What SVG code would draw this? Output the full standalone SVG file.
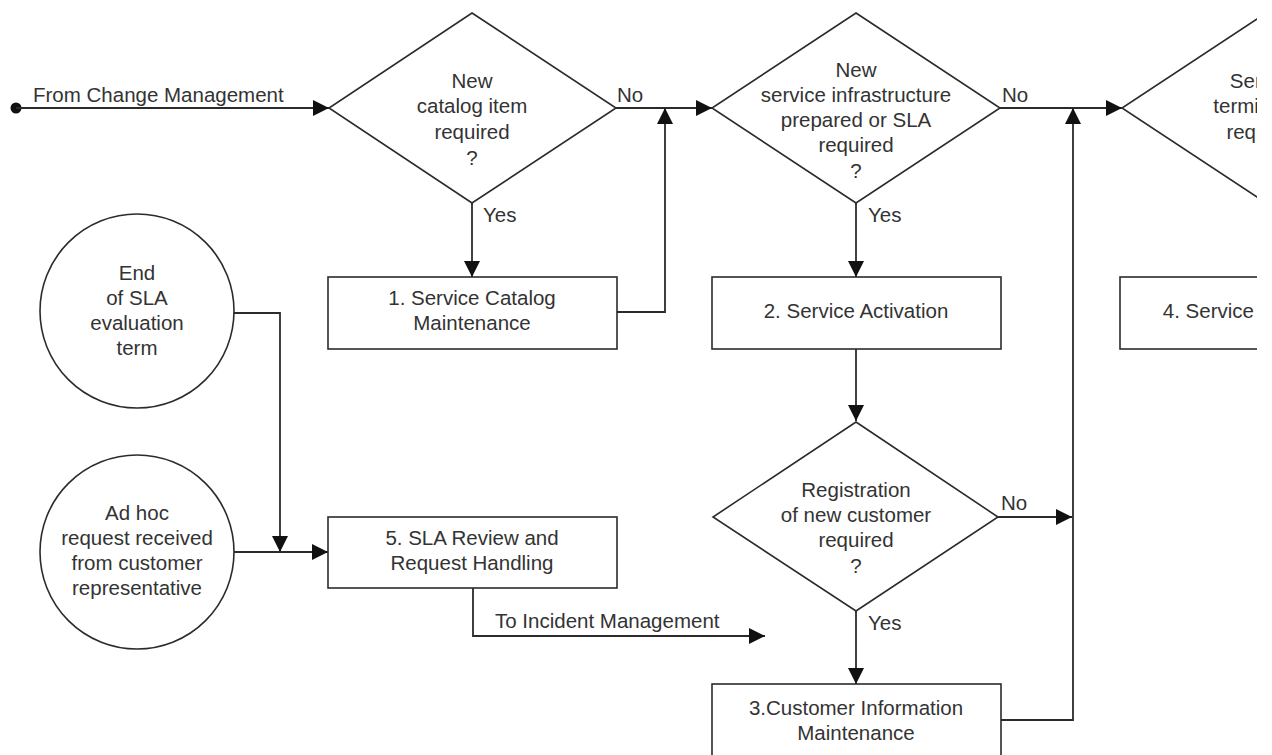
<svg xmlns="http://www.w3.org/2000/svg" width="1272" height="755" viewBox="0 0 1272 755">
  <style>
    .shape { fill: #ffffff; stroke: #2b2b2b; stroke-width: 1.6; }
    .link { fill: none; stroke: #2b2b2b; stroke-width: 1.8; }
    text { font-family: "Liberation Sans", Arial, sans-serif; font-size: 20.5px; fill: #333333; }
    .c { text-anchor: middle; }
  </style>
  <defs>
    <marker id="arrow" viewBox="0 0 16 16" refX="16" refY="8" markerWidth="16" markerHeight="16" markerUnits="userSpaceOnUse" orient="auto">
      <path d="M0,0 L16,8 L0,16 Z" fill="#111111"/>
    </marker>
    <clipPath id="page">
      <rect x="0" y="0" width="1257" height="755"/>
    </clipPath>
  </defs>
  <rect width="1272" height="755" fill="#ffffff"/>

  <g clip-path="url(#page)">
    <!-- connectors -->
    <g id="connectors">
      <circle cx="16" cy="108" r="5.5" fill="#111111"/>
      <path class="link" d="M16,108 H329" marker-end="url(#arrow)"/>
      <path class="link" d="M616,108 H712" marker-end="url(#arrow)"/>
      <path class="link" d="M617,312 H665 V108" marker-end="url(#arrow)"/>
      <path class="link" d="M472,203 V277" marker-end="url(#arrow)"/>
      <path class="link" d="M1000,108 H1122" marker-end="url(#arrow)"/>
      <path class="link" d="M856,203 V277" marker-end="url(#arrow)"/>
      <path class="link" d="M856,349 V421" marker-end="url(#arrow)"/>
      <path class="link" d="M998,517 H1072" marker-end="url(#arrow)"/>
      <path class="link" d="M856,611 V684" marker-end="url(#arrow)"/>
      <path class="link" d="M1001,720 H1073 V108" marker-end="url(#arrow)"/>
      <path class="link" d="M233,313 H280 V552" marker-end="url(#arrow)"/>
      <path class="link" d="M233,552 H328" marker-end="url(#arrow)"/>
      <path class="link" d="M473,588 V636 H765" marker-end="url(#arrow)"/>

      <text x="33" y="102">From Change Management</text>
      <text x="617" y="102">No</text>
      <text x="483" y="222">Yes</text>
      <text x="1002" y="102">No</text>
      <text x="868" y="222">Yes</text>
      <text x="1001" y="510">No</text>
      <text x="868" y="630">Yes</text>
      <text x="495" y="628">To Incident Management</text>
    </g>

    <!-- decision: new catalog item -->
    <g id="decision-catalog">
      <polygon class="shape" points="472,13 616,108 472,203 329,108"/>
      <text class="c" x="472" y="88">New</text>
      <text class="c" x="472" y="113">catalog item</text>
      <text class="c" x="472" y="139">required</text>
      <text class="c" x="472" y="165">?</text>
    </g>

    <!-- decision: new service infrastructure -->
    <g id="decision-infrastructure">
      <polygon class="shape" points="856,13 1000,108 856,203 712,108"/>
      <text class="c" x="856" y="77">New</text>
      <text class="c" x="856" y="102">service infrastructure</text>
      <text class="c" x="856" y="127">prepared or SLA</text>
      <text class="c" x="856" y="152">required</text>
      <text class="c" x="856" y="178">?</text>
    </g>

    <!-- decision: service termination -->
    <g id="decision-termination">
      <polygon class="shape" points="1266,13 1410,108 1266,203 1122,108"/>
      <text class="c" x="1264" y="88">Service</text>
      <text class="c" x="1264" y="113">termination</text>
      <text class="c" x="1264" y="139">required</text>
      <text class="c" x="1264" y="165">?</text>
    </g>

    <!-- decision: registration of new customer -->
    <g id="decision-registration">
      <polygon class="shape" points="856,422 998,517 856,611 713,517"/>
      <text class="c" x="856" y="497">Registration</text>
      <text class="c" x="856" y="522">of new customer</text>
      <text class="c" x="856" y="547">required</text>
      <text class="c" x="856" y="573">?</text>
    </g>

    <!-- processes -->
    <g id="process-1">
      <rect class="shape" x="328" y="277" width="289" height="72"/>
      <text class="c" x="472" y="305">1. Service Catalog</text>
      <text class="c" x="472" y="330">Maintenance</text>
    </g>

    <g id="process-2">
      <rect class="shape" x="712" y="277" width="289" height="72"/>
      <text class="c" x="856" y="318">2. Service Activation</text>
    </g>

    <g id="process-3">
      <rect class="shape" x="712" y="684" width="289" height="90"/>
      <text class="c" x="856" y="715">3.Customer Information</text>
      <text class="c" x="856" y="740">Maintenance</text>
    </g>

    <g id="process-4">
      <rect class="shape" x="1120" y="277" width="289" height="72"/>
      <text class="c" x="1264" y="318">4. Service Termination</text>
    </g>

    <g id="process-5">
      <rect class="shape" x="328" y="517" width="289" height="71"/>
      <text class="c" x="472" y="545">5. SLA Review and</text>
      <text class="c" x="472" y="570">Request Handling</text>
    </g>

    <!-- events -->
    <g id="event-sla-term">
      <circle class="shape" cx="137" cy="311" r="97"/>
      <text class="c" x="137" y="280">End</text>
      <text class="c" x="137" y="305">of SLA</text>
      <text class="c" x="137" y="330">evaluation</text>
      <text class="c" x="137" y="355">term</text>
    </g>

    <g id="event-adhoc">
      <circle class="shape" cx="137" cy="552" r="97"/>
      <text class="c" x="137" y="520">Ad hoc</text>
      <text class="c" x="137" y="545">request received</text>
      <text class="c" x="137" y="570">from customer</text>
      <text class="c" x="137" y="595">representative</text>
    </g>
  </g>
</svg>
